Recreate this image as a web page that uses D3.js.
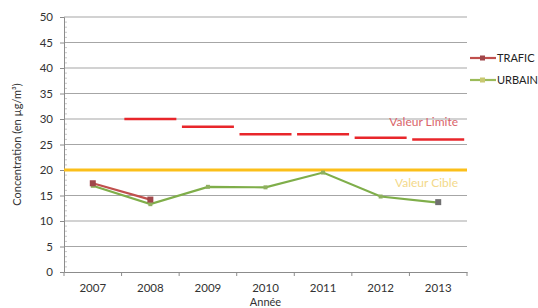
<!DOCTYPE html>
<html>
<head>
<meta charset="utf-8">
<script src="https://cdn.jsdelivr.net/npm/d3@7"></script>
<style>
  body { margin: 0; background: #fff; }
  svg text { font-family: Lato, "Open Sans", sans-serif; }
</style>
</head>
<body>
<div id="chart"></div>
<script>
const years = ['2007', '2008', '2009', '2010', '2011', '2012', '2013'];
const trafic = [17.4, 14.2, null, null, null, null, 13.7];
const urbain = [16.9, 13.3, 16.7, 16.6, 19.5, 14.8, 13.6];
const valeurLimite = [null, 30, 28.5, 27, 27, 26.3, 26];
const valeurCible = 20;
const yTicks = [0, 5, 10, 15, 20, 25, 30, 35, 40, 45, 50];

const width = 538, height = 308;
const margin = {top: 17, right: 71, bottom: 36, left: 64};
const w = width - margin.left - margin.right;
const h = height - margin.top - margin.bottom;

const svg = d3.select('#chart').append('svg')
  .attr('width', width)
  .attr('height', height);

const g = svg.append('g')
  .attr('transform', `translate(${margin.left}, ${margin.top})`);

const x = d3.scaleBand().domain(years).range([0, w]);
const y = d3.scaleLinear().domain([0, 50]).range([h, 0]);
const cx = (d) => x(d) + x.bandwidth() / 2;

// gridlines
g.selectAll('.grid')
  .data(yTicks.filter((d) => d > 0))
  .enter().append('line')
  .attr('x1', 0).attr('x2', w)
  .attr('y1', (d) => y(d)).attr('y2', (d) => y(d))
  .attr('stroke', '#a6a6a6')
  .attr('stroke-width', 1.2);

// minor ticks on y axis
g.selectAll('.minor')
  .data(d3.range(0, 51, 1).filter((d) => d % 5 !== 0))
  .enter().append('line')
  .attr('x1', 0).attr('x2', 3)
  .attr('y1', (d) => y(d)).attr('y2', (d) => y(d))
  .attr('stroke', '#c8c8c8');

// axes
const yAxis = d3.axisLeft(y).tickValues(yTicks).tickSize(4).tickPadding(7);
const yg = g.append('g').call(yAxis);
yg.select('.domain').attr('stroke', '#8c8c8c');
yg.selectAll('.tick line').attr('stroke', '#8c8c8c');
yg.selectAll('text').attr('fill', '#333').style('font-size', '11.5px');

const xAxis = d3.axisBottom(x).tickSize(0).tickPadding(12);
const xg = g.append('g').attr('transform', `translate(0, ${h})`).call(xAxis);
xg.select('.domain').attr('stroke', '#8c8c8c');
xg.selectAll('text').attr('fill', '#333').style('font-size', '11.5px');

// band boundary ticks
g.selectAll('.xtick')
  .data(years.concat(['end']))
  .enter().append('line')
  .attr('x1', (d, i) => i < years.length ? x(d) : w)
  .attr('x2', (d, i) => i < years.length ? x(d) : w)
  .attr('y1', h).attr('y2', h + 4)
  .attr('stroke', '#8c8c8c');

// valeur cible
g.append('line')
  .attr('x1', 0).attr('x2', w)
  .attr('y1', y(valeurCible)).attr('y2', y(valeurCible))
  .attr('stroke', '#fbbf1a')
  .attr('stroke-width', 3);

// valeur limite dashes
const segW = 52;
g.selectAll('.limite')
  .data(years.map((d, i) => ({year: d, v: valeurLimite[i]})).filter((d) => d.v != null))
  .enter().append('line')
  .attr('x1', (d) => cx(d.year) - segW / 2)
  .attr('x2', (d) => cx(d.year) + segW / 2)
  .attr('y1', (d) => y(d.v)).attr('y2', (d) => y(d.v))
  .attr('stroke', '#e8262b')
  .attr('stroke-width', 2.5);

g.append('text')
  .attr('x', w - 9).attr('y', y(valeurLimite[6]) - 13)
  .attr('text-anchor', 'end')
  .attr('fill', '#d9646a')
  .style('font-size', '12px')
  .text('Valeur Limite');

g.append('text')
  .attr('x', w - 9).attr('y', y(valeurCible) + 17)
  .attr('text-anchor', 'end')
  .attr('fill', '#f3d98a')
  .style('font-size', '12px')
  .text('Valeur Cible');

// series
const line = d3.line()
  .defined((d) => d.v != null)
  .x((d) => cx(d.year))
  .y((d) => y(d.v));

const urbainData = years.map((d, i) => ({year: d, v: urbain[i]}));
const traficData = years.map((d, i) => ({year: d, v: trafic[i]}));

g.append('path')
  .datum(urbainData)
  .attr('d', line)
  .attr('fill', 'none')
  .attr('stroke', '#7fae4a')
  .attr('stroke-width', 2.2);

g.selectAll('.urb')
  .data(urbainData)
  .enter().append('rect')
  .attr('x', (d) => cx(d.year) - 2).attr('y', (d) => y(d.v) - 2)
  .attr('width', 4).attr('height', 4)
  .attr('fill', '#8fb060');

g.append('path')
  .datum(traficData)
  .attr('d', line)
  .attr('fill', 'none')
  .attr('stroke', '#c0504d')
  .attr('stroke-width', 2.2);

g.selectAll('.tra')
  .data(traficData.filter((d) => d.v != null))
  .enter().append('rect')
  .attr('x', (d) => cx(d.year) - 3).attr('y', (d) => y(d.v) - 3)
  .attr('width', 6).attr('height', 6)
  .attr('fill', (d, i, n) => i === n.length - 1 ? '#707070' : '#a0464a');

// legend
const legend = svg.append('g').attr('transform', 'translate(470, 58)');
const legendItems = [
  {name: 'TRAFIC', color: '#c0504d', marker: '#a0464a'},
  {name: 'URBAIN', color: '#9bbb59', marker: '#c8c870'}
];
legendItems.forEach((d, i) => {
  const item = legend.append('g').attr('transform', `translate(0, ${i * 22})`);
  item.append('line').attr('x1', 0).attr('x2', 26).attr('y1', 0).attr('y2', 0)
    .attr('stroke', d.color).attr('stroke-width', 2.2);
  item.append('rect').attr('x', 10).attr('y', -2.5).attr('width', 5).attr('height', 5)
    .attr('fill', d.marker);
  item.append('text').attr('x', 27).attr('y', 4)
    .attr('fill', '#222').style('font-size', '11px')
    .text(d.name);
});

// axis titles
svg.append('text')
  .attr('transform', `translate(21, ${margin.top + h / 2}) rotate(-90)`)
  .attr('text-anchor', 'middle')
  .attr('fill', '#333')
  .style('font-size', '11px')
  .text('Concentration (en µg/m³)');

svg.append('text')
  .attr('x', margin.left + w / 2).attr('y', 306)
  .attr('text-anchor', 'middle')
  .attr('fill', '#333')
  .style('font-size', '11px')
  .text('Année');
</script>
</body>
</html>
